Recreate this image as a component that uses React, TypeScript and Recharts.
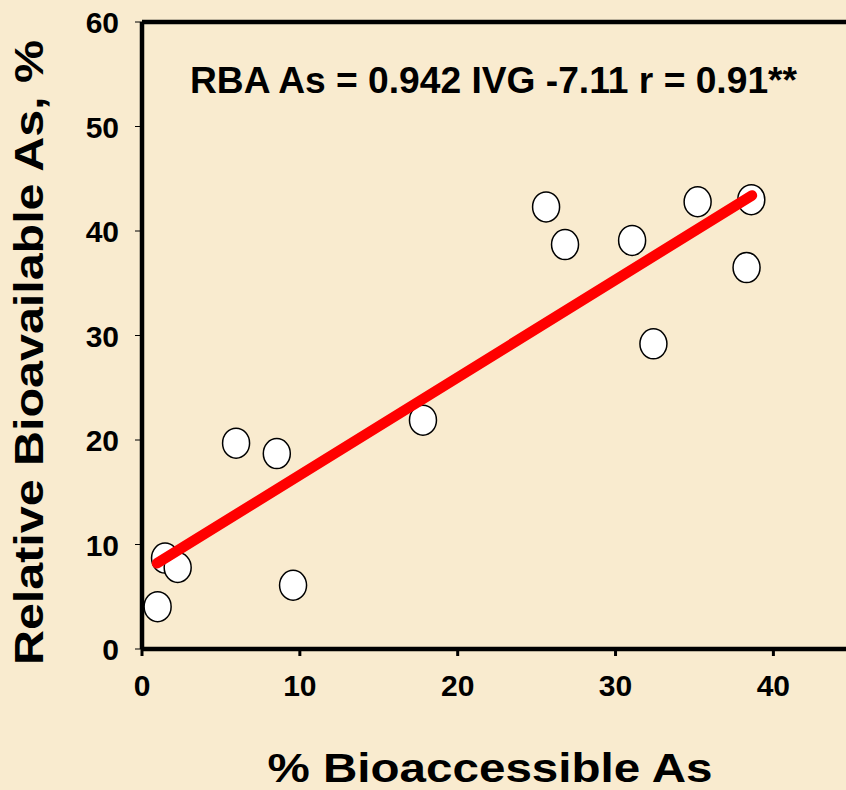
import React from 'react';
import { ScatterChart, Scatter, XAxis, YAxis, ReferenceLine } from 'recharts';

const bioaccessible = [0.99, 1.46, 2.26, 5.96, 8.54, 9.57, 17.8, 25.6, 26.8, 31.05, 32.4, 35.2, 38.6, 38.3];
const relBioavailable = [4.05, 8.7, 7.8, 19.7, 18.7, 6.1, 21.9, 42.3, 38.7, 39.1, 29.2, 42.8, 43.0, 36.5];
const fitX = [0.95, 38.64];
const fitY = [8.2, 43.4];
const xTicks = [0, 10, 20, 30, 40];
const yTicks = [0, 10, 20, 30, 40, 50, 60];
const annotation = 'RBA As = 0.942 IVG -7.11 r = 0.91**';
const xTitle = '% Bioaccessible As';
const yTitle = 'Relative Bioavailable As, %';

const points = bioaccessible.map((x, i) => ({ x, y: relBioavailable[i] }));
const fit = fitX.map((x, i) => ({ x, y: fitY[i] }));

const FONT = '"Liberation Sans", Arial, sans-serif';

const Dot = (props: any) => {
  const { cx, cy } = props;
  if (cx == null || cy == null) return <g />;
  return <ellipse cx={cx} cy={cy} rx={13.5} ry={15} fill="#ffffff" stroke="#000" strokeWidth={1.5} />;
};

const YTick = (props: any) => {
  const { x, y, payload } = props;
  return (
    <text x={x - 14} y={y} dy={11} textAnchor="end" fontSize={30} fontWeight="bold" fontFamily={FONT} fill="#000">
      {payload.value}
    </text>
  );
};

const XTick = (props: any) => {
  const { x, y, payload } = props;
  return (
    <text x={x} y={y} dy={38} textAnchor="middle" fontSize={30} fontWeight="bold" fontFamily={FONT} fill="#000">
      {payload.value}
    </text>
  );
};

const XLabel = (props: any) => {
  const { viewBox } = props;
  const cx = viewBox.x + viewBox.width / 2 - 4;
  return (
    <text x={cx} y={viewBox.y + 133} textAnchor="middle" fontSize={41} fontWeight="bold" fontFamily={FONT} fill="#000"
      textLength={445} lengthAdjust="spacingAndGlyphs">
      {xTitle}
    </text>
  );
};

const YLabel = (props: any) => {
  const { viewBox } = props;
  const cy = viewBox.y + viewBox.height / 2 + 17;
  const cx = 43;
  return (
    <text x={cx} y={cy} transform={`rotate(-90, ${cx}, ${cy})`} textAnchor="middle" fontSize={40} fontWeight="bold"
      fontFamily={FONT} fill="#000" textLength={625} lengthAdjust="spacingAndGlyphs">
      {yTitle}
    </text>
  );
};

const Annot = (props: any) => {
  const { viewBox } = props;
  const cx = viewBox.x + viewBox.width / 2 - 0.5;
  return (
    <text x={cx} y={viewBox.y + 71} textAnchor="middle" fontSize={36} fontWeight="bold" fontFamily={FONT} fill="#000"
      textLength={607} lengthAdjust="spacingAndGlyphs">
      {annotation}
    </text>
  );
};

export default function App() {
  return (
    <div style={{ position: 'fixed', left: 0, top: 0, width: 846, height: 790, overflow: 'hidden', background: '#f9ebcf' }}>
      <ScatterChart width={846} height={790} margin={{ top: 22, right: 0, bottom: 0, left: 0 }}>
        <XAxis
          type="number"
          dataKey="x"
          domain={[0, 44.6]}
          ticks={xTicks}
          allowDataOverflow
          height={141}
          axisLine={{ stroke: '#000', strokeWidth: 4.5 }}
          tickLine={{ stroke: '#000', strokeWidth: 3 }}
          tickSize={7}
          tick={<XTick />}
          label={<XLabel />}
        />
        <YAxis
          type="number"
          dataKey="y"
          domain={[0, 60]}
          ticks={yTicks}
          allowDataOverflow
          width={142}
          axisLine={{ stroke: '#000', strokeWidth: 4.5 }}
          tickLine={{ stroke: '#000', strokeWidth: 1 }}
          tickSize={7}
          tick={<YTick />}
          label={<YLabel />}
        />
        <ReferenceLine y={60} stroke="#000" strokeWidth={4.5} label={<Annot />} />
        <Scatter data={points} shape={<Dot />} isAnimationActive={false} />
        <Scatter
          data={fit}
          line={{ stroke: '#ff0000', strokeWidth: 10.5, strokeLinecap: 'round' }}
          shape={() => <g />}
          isAnimationActive={false}
        />
      </ScatterChart>
    </div>
  );
}
